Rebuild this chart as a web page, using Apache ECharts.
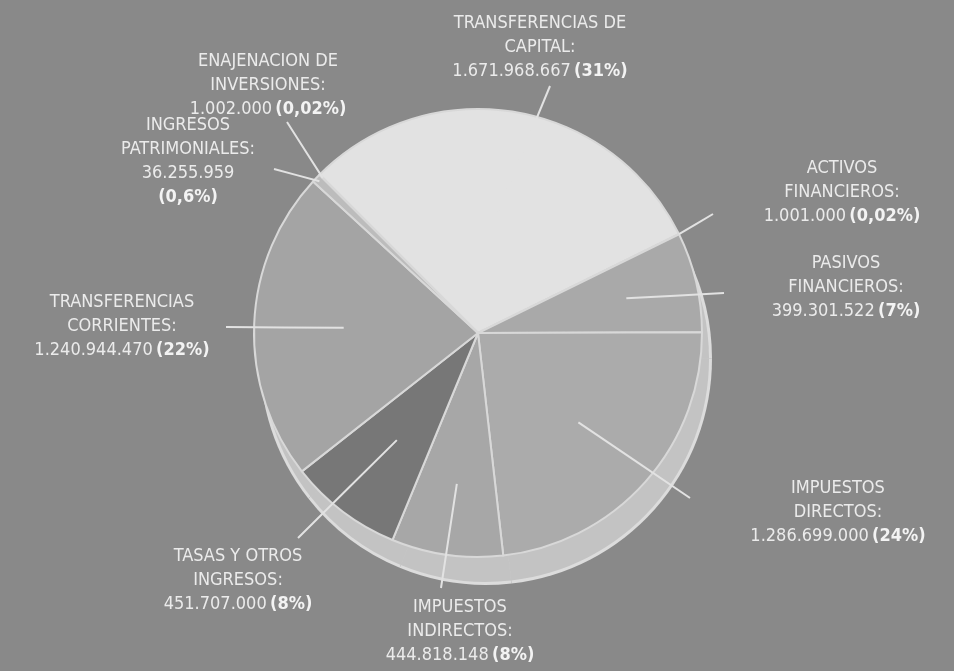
<!DOCTYPE html>
<html>
<head>
<meta charset="utf-8">
<script src="https://cdn.jsdelivr.net/npm/echarts@6/dist/echarts.min.js"></script>
<style>
  html, body { margin: 0; background: #898989; }
  #chart { width: 954px; height: 671px; }
</style>
</head>
<body>
<div id="chart"></div>
<script>
const categories = [
  'TRANSFERENCIAS DE\nCAPITAL:',
  'ACTIVOS\nFINANCIEROS:',
  'PASIVOS\nFINANCIEROS:',
  'IMPUESTOS\nDIRECTOS:',
  'IMPUESTOS\nINDIRECTOS:',
  'TASAS Y OTROS\nINGRESOS:',
  'TRANSFERENCIAS\nCORRIENTES:',
  'INGRESOS\nPATRIMONIALES:',
  'ENAJENACION DE\nINVERSIONES:'
];
const amounts = [1671968667, 1001000, 399301522, 1286699000, 444818148, 451707000, 1240944470, 36255959, 1002000];
const shares = ['31%', '0,02%', '7%', '24%', '8%', '8%', '22%', '0,6%', '0,02%'];

// styles / layout (not data)
const sliceColors = ['#e2e2e2', '#c8c8c8', '#a9a9a9', '#ababab', '#a7a7a7', '#777777', '#a4a4a4', '#bcbcbc', '#d0d0d0'];
const CX = 478, CY = 333, R = 224, START = 135;
// label centre, leader line end and how far the line reaches into its slice
const labelSpots = [
  { at: [540, 47], end: [550, 86], depth: 0.55 },
  { at: [842, 192], end: [713, 214], depth: 1.0 },
  { at: [846, 287], end: [724, 293], depth: 0.68 },
  { at: [838, 512], end: [690, 498], depth: 0.6 },
  { at: [460, 631], end: [441, 588], depth: 0.68 },
  { at: [238, 580], end: [298, 538], depth: 0.6 },
  { at: [122, 326], end: [226, 327], depth: 0.6 },
  { at: [188, 161], end: [274, 169], depth: 0.98, wrap: true },
  { at: [268, 85], end: [287, 122], depth: 0.98 }
];

const total = amounts.reduce((a, b) => a + b, 0);
function midAngle(i) {
  let before = 0;
  for (let k = 0; k < i; k++) before += amounts[k];
  return (START - (before + amounts[i] / 2) / total * 360) * Math.PI / 180;
}
function fmt(v) {
  return String(v).replace(/\B(?=(\d{3})+(?!\d))/g, '.');
}
const pieData = () => amounts.map((v, i) => ({ name: categories[i], value: v }));

const chart = echarts.init(document.getElementById('chart'));
const font = { fontFamily: "'DejaVu Sans Condensed'", fontSize: 18, lineHeight: 24, color: '#ebebeb' };

chart.setOption({
  backgroundColor: '#898989',
  animation: false,
  series: [
    {
      // outline of the tilted rim
      type: 'pie', silent: true, startAngle: START, z: 1,
      center: [CX + 8, CY + 26], radius: R + 2,
      label: { show: false }, labelLine: { show: false },
      itemStyle: { color: '#dcdcdc', borderWidth: 0 },
      data: pieData()
    },
    {
      type: 'pie', silent: true, startAngle: START, z: 1,
      center: [CX + 8, CY + 26], radius: R - 1,
      label: { show: false }, labelLine: { show: false },
      itemStyle: { color: '#c3c3c3', borderWidth: 0 },
      data: pieData()
    },
    {
      type: 'pie', silent: true, startAngle: START, z: 1,
      center: [CX, CY], radius: R,
      label: { show: false }, labelLine: { show: false },
      itemStyle: { borderColor: '#d8d8d8', borderWidth: 2 },
      data: amounts.map((v, i) => ({ name: categories[i], value: v, itemStyle: { color: sliceColors[i] } }))
    },
    {
      // same slices, transparent, carrying the labels above the face
      type: 'pie', silent: true, startAngle: START, z: 5,
      center: [CX, CY], radius: R,
      avoidLabelOverlap: false,
      minShowLabelAngle: 0,
      itemStyle: { color: 'rgba(0,0,0,0)', borderWidth: 0 },
      label: {
        show: true,
        formatter: p => {
          const sep = labelSpots[p.dataIndex].wrap ? '\n' : ' ';
          return `{n|${p.name}}\n{n|${fmt(p.value)}}${sep}{b|(${shares[p.dataIndex]})}`;
        },
        rich: {
          n: Object.assign({}, font),
          b: Object.assign({}, font, { fontWeight: 'bold', color: '#f3f3f3' })
        }
      },
      labelLine: { show: true, lineStyle: { color: '#e2e2e2', width: 2 } },
      labelLayout: params => {
        const i = params.dataIndex;
        const s = labelSpots[i];
        const a = midAngle(i);
        const start = [CX + s.depth * R * Math.cos(a), CY - s.depth * R * Math.sin(a)];
        const mid = [(start[0] + s.end[0]) / 2, (start[1] + s.end[1]) / 2];
        return {
          x: s.at[0], y: s.at[1],
          align: 'center', verticalAlign: 'middle',
          labelLinePoints: [start, mid, s.end]
        };
      },
      data: pieData()
    }
  ]
});
</script>
</body>
</html>
